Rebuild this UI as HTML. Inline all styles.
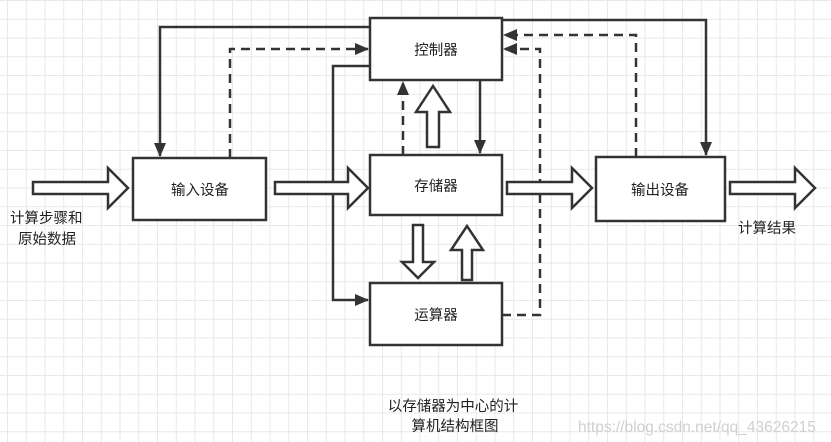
<!DOCTYPE html>
<html><head><meta charset="utf-8"><style>
body{margin:0;width:831px;height:442px;overflow:hidden;background:#fff;
background-image:linear-gradient(#e8e8e8 1px,transparent 1px),linear-gradient(90deg,#e8e8e8 1px,transparent 1px);
background-size:18.75px 18.75px;background-position:7px 0px;}
svg{position:absolute;left:0;top:0}
text{font-family:"Liberation Sans","Noto Sans CJK SC",sans-serif;font-size:14.5px;fill:#222}
</style></head><body>
<svg width="831" height="442" xmlns="http://www.w3.org/2000/svg">
<defs><marker id="a" markerWidth="14" markerHeight="14" refX="13" refY="6" orient="auto" markerUnits="userSpaceOnUse"><path d="M0,0 L14,6 L0,12 Z" fill="#333"/></marker></defs>
<g fill="#fff" stroke="#333" stroke-width="2.5">
<rect x="370" y="18" width="132" height="62"/>
<rect x="370" y="155" width="132" height="60"/>
<rect x="133" y="158" width="133" height="62"/>
<rect x="370" y="283" width="132" height="62"/>
<rect x="596" y="157" width="129" height="64"/>
</g>
<g fill="none" stroke="#333" stroke-width="2.5">
<path d="M370,27 H160 V156" marker-end="url(#a)"/>
<path d="M370,66 H333 V300 H368" marker-end="url(#a)"/>
<path d="M480,80 V153" marker-end="url(#a)"/>
<path d="M502,20 H706 V155" marker-end="url(#a)"/>
</g>
<g fill="none" stroke="#333" stroke-width="2.5" stroke-dasharray="9,6">
<path d="M230,158 V49 H368" marker-end="url(#a)"/>
<path d="M403,155 V82" marker-end="url(#a)"/>
<path d="M636,157 V35 H504" marker-end="url(#a)"/>
<path d="M502,315 H540 V49 H504" marker-end="url(#a)"/>
</g>
<g fill="#fff" stroke="#333" stroke-width="2.5">
<path d="M33,182 H108 V168 L128,188 L108,208 V194 H33 Z"/>
<path d="M275,182 H348 V168 L368,188 L348,208 V194 H275 Z"/>
<path d="M507,182 H572 V168 L592,188 L572,208 V194 H507 Z"/>
<path d="M730,182 H795 V168 L815,188 L795,208 V194 H730 Z"/>
<path d="M427,147 V112 H416 L433,86 L450,112 H439 V147 Z"/>
<path d="M413,225 V262 H402 L418,278 L434,262 H423 V225 Z"/>
<path d="M462,280 V250 H451 L467,226 L483,250 H472 V280 Z"/>
</g>
<text x="436" y="55" text-anchor="middle">控制器</text>
<text x="436" y="191" text-anchor="middle">存储器</text>
<text x="200" y="195" text-anchor="middle">输入设备</text>
<text x="436" y="320" text-anchor="middle">运算器</text>
<text x="660" y="195" text-anchor="middle">输出设备</text>
<text x="10" y="223">计算步骤和</text>
<text x="18" y="244">原始数据</text>
<text x="738" y="233">计算结果</text>
<text x="453" y="411" text-anchor="middle">以存储器为中心的计</text>
<text x="455" y="431" text-anchor="middle">算机结构框图</text>
<text x="578" y="432" style="fill:#d0d0d0;font-size:15.5px">https://blog.csdn.net/qq_43626215</text>
</svg>
</body></html>
